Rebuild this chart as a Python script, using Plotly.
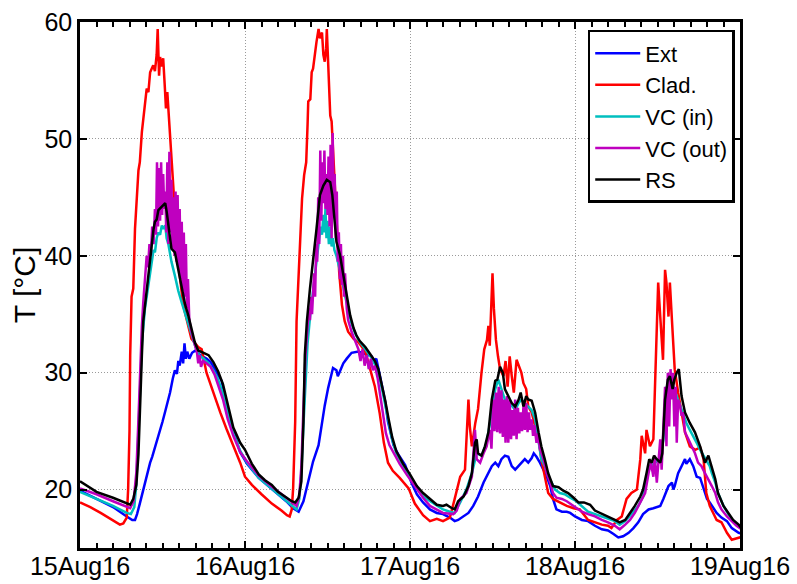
import pandas as pd
import plotly.graph_objects as go

# (hours since 15Aug16 00:00, temperature °C)
EXT = [(0,19.9),(2.4,19.2),(4.8,18.5),(6.8,17.7),(7.6,17.4),(8.0,17.4),(8.3,17.9),(8.7,18.8),(9.2,20.0),(9.7,21.2),(10.2,22.3),(10.5,22.8),(10.9,23.6),(11.2,24.0),(11.6,25.0),(12.0,25.8),(12.4,26.7),(12.8,27.6),(13.1,28.3),(13.5,29.5),(13.8,30.2),(14.1,29.9),(14.3,31.0),(14.5,30.6),(14.8,31.8),(15.0,30.8),(15.2,32.5),(15.4,31.2),(15.6,31.8),(15.9,31.2),(16.3,31.7),(16.8,31.9),(17.3,31.6),(17.8,31.4),(18.4,31.2),(19.0,30.9),(19.4,30.5),(20.0,30.0),(20.6,29.3),(21.0,28.2),(21.5,26.8),(22.3,25.0),(23.3,23.2),(24.3,22.2),
       (26.0,21.0),(28.0,20.0),(30.0,19.0),(31.0,18.4),(31.8,18.1),(32.5,19.0),(33.2,20.7),(33.9,22.4),(34.7,23.8),(35.2,25.8),(35.6,27.2),(36.1,28.7),(36.6,29.8),(36.8,30.4),(37.3,30.2),(37.5,29.7),(37.8,30.1),(38.3,30.8),(38.8,31.2),(39.5,31.7),(40.5,31.8),(41.5,31.6),(42.4,31.4),(42.8,31.0),(43.1,31.2),(43.6,29.8),(44.4,27.5),(44.8,25.8),(45.6,23.8),(46.3,23.0),(47.3,22.1),(48.2,20.6),
       (49.0,19.6),(49.9,18.9),(50.9,18.3),(51.9,18.0),(52.8,17.9),(53.8,17.6),(54.5,17.3),(55.0,17.4),(55.8,17.7),(56.5,18.0),(57.2,18.6),(57.9,19.4),(58.7,20.6),(59.4,21.4),(59.9,22.0),(60.4,22.3),(60.85,22.0),(61.3,22.6),(61.8,22.9),(62.3,22.8),(62.8,22.0),(63.3,21.7),(63.8,22.0),(64.2,22.3),(64.7,22.6),(65.2,22.3),(65.7,22.7),(66.0,23.1),(66.4,22.8),(66.9,22.3),(67.4,21.7),(67.9,21.1),(68.4,20.3),(68.8,19.2),(69.3,18.3),(70.1,18.1),(70.8,18.1),(71.3,18.0),(72.0,17.7),
       (73.0,17.4),(73.9,17.3),(74.9,16.9),(75.9,16.6),(76.8,16.5),(77.6,16.2),(78.3,15.9),(79.0,16.0),(79.8,16.3),(80.5,16.7),(81.2,17.2),(81.9,17.9),(82.7,18.3),(83.4,18.4),(84.4,18.6),(84.85,19.2),(85.6,20.3),(86.1,20.6),(86.3,20.0),(86.5,20.3),(87.0,21.4),(87.5,22.0),(88.0,22.6),(88.2,22.2),(88.7,22.6),(89.2,22.0),(89.7,21.1),(90.2,21.0),(90.7,20.0),(91.2,19.2),(91.6,18.9),(92.1,18.4),(92.6,18.0),(93.3,17.6),(94.1,17.3),(94.8,16.7),(95.8,16.3),(96.5,16.2)]

CLAD = [(0,18.9),(1.5,18.5),(3.0,18.0),(4.5,17.5),(5.8,17.0),(6.3,17.1),(6.8,17.6),(7.0,20.0),(7.2,25.0),(7.3,31.5),(7.5,36.5),(7.75,37.2),(8.0,42.3),(8.5,47.3),(8.7,48.0),(9.0,50.6),(9.45,53.2),(9.7,54.3),(9.95,54.0),(10.2,55.7),(10.65,56.3),(10.9,55.8),(11.15,57.2),(11.3,59.4),(11.5,55.4),(11.65,57.0),(11.9,56.2),(12.1,56.9),(12.35,54.3),(12.5,52.6),(12.7,54.0),(12.95,51.5),(13.3,48.6),(13.6,45.8),(14.05,41.5),(14.55,38.1),(15.0,35.8),(15.5,34.6),(16.2,32.9),(17.2,32.2),(17.7,32.0),(18.4,30.0),(19.2,28.6),(20.4,26.6),(21.3,25.2),(22.3,23.8),(23.3,22.3),(24.0,21.1),
        (25.0,20.4),(26.4,19.6),(27.9,18.8),(29.3,18.2),(30.1,17.8),(30.5,17.7),(30.8,18.3),(31.0,20.1),(31.3,25.8),(31.5,34.4),(31.8,38.1),(32.0,41.5),(32.3,44.9),(32.6,46.9),(32.9,48.0),(33.1,51.2),(33.2,53.2),(33.5,53.4),(33.7,55.7),(33.9,56.0),(34.2,57.7),(34.4,58.3),(34.7,59.4),(34.9,58.6),(35.2,59.1),(35.4,57.2),(35.6,56.6),(35.8,57.7),(35.9,59.4),(36.1,55.7),(36.4,52.0),(36.6,51.5),(37.0,46.3),(37.3,42.9),(37.7,38.6),(38.1,35.8),(38.5,34.4),(39.0,33.5),(39.8,32.9),(40.5,32.6),(41.5,31.8),(42.2,30.3),(42.9,28.8),(43.6,26.5),(44.2,24.0),(44.8,22.3),(45.5,21.6),(46.5,21.0),(47.8,20.1),(48.7,18.8),
        (49.9,17.8),(50.9,17.3),(51.9,17.5),(52.8,17.3),(53.8,17.6),(54.5,19.2),(55.3,21.1),(56.0,21.7),(56.2,24.3),(56.5,27.7),(56.7,25.4),(57.0,23.7),(57.5,25.7),(57.9,26.9),(58.4,30.0),(58.8,32.0),(59.2,32.8),(59.4,34.0),(59.6,32.3),(59.9,36.2),(60.0,38.5),(60.2,35.5),(60.5,32.8),(60.8,31.4),(61.1,30.3),(61.6,29.7),(61.9,31.0),(62.2,28.8),(62.5,31.4),(62.8,29.7),(63.1,28.3),(63.5,31.1),(63.9,30.5),(64.2,30.0),(64.5,29.1),(64.9,28.6),(65.2,27.1),(65.7,26.6),(66.2,25.4),(66.7,24.3),(67.1,22.6),(67.6,21.1),(68.1,19.7),(68.8,19.2),(69.8,18.9),(70.8,18.6),(71.8,18.4),(72.7,18.3),
        (73.9,17.4),(74.9,17.2),(75.9,17.0),(76.8,16.9),(77.3,16.7),(78.1,17.4),(78.8,17.7),(79.5,19.2),(80.2,19.7),(81.0,20.0),(81.5,22.6),(81.7,24.6),(82.2,23.1),(82.4,25.1),(82.9,23.7),(83.4,24.3),(83.6,27.7),(83.9,33.4),(84.1,37.7),(84.4,34.8),(84.6,32.8),(84.8,31.1),(85.1,38.8),(85.3,37.7),(85.6,34.8),(85.8,37.7),(86.1,34.5),(86.3,32.0),(86.5,30.3),(87.0,28.3),(87.5,26.6),(88.0,24.9),(88.7,23.7),(89.5,23.4),(90.2,23.6),(90.7,22.6),(91.1,19.7),(91.6,18.6),(92.1,18.0),(92.6,17.4),(93.3,17.2),(94.1,16.3),(94.8,15.7),(95.8,15.9),(96.5,16.0)]

VC_IN = [(0,19.8),(2.4,19.2),(4.8,18.6),(6.8,18.0),(7.4,17.9),(7.9,18.5),(8.2,20.5),(8.5,25.0),(8.75,29.5),(9.0,32.5),(9.45,35.5),(9.95,37.5),(10.4,39.0),(10.7,40.5),(10.9,40.3),(11.15,41.5),(11.4,42.0),(11.65,41.8),(11.9,42.6),(12.1,42.3),(12.4,42.6),(12.6,41.5),(12.85,41.0),(13.1,40.0),(13.3,39.5),(13.8,38.3),(14.3,37.0),(14.8,36.0),(15.3,35.0),(15.8,34.0),(16.3,33.0),(16.8,32.2),(17.3,31.5),(18.0,31.2),(18.7,30.8),(19.4,30.2),(20.1,29.4),(20.8,28.2),(21.6,26.3),(22.3,24.8),(23.3,23.3),(24.3,22.3),
         (26.0,21.0),(28.0,20.0),(30.0,19.0),(31.0,18.5),(31.5,18.3),(31.9,19.2),(32.2,21.5),(32.5,25.5),(32.8,29.5),(33.1,32.5),(33.5,35.0),(33.9,37.0),(34.3,39.0),(34.7,41.0),(35.0,42.5),(35.2,41.8),(35.4,43.5),(35.55,42.0),(35.7,44.0),(35.85,41.5),(36.0,43.0),(36.2,41.0),(36.4,42.5),(36.6,40.8),(36.8,41.5),(37.0,40.5),(37.3,40.0),(37.7,39.0),(38.1,38.0),(38.5,36.7),(39.0,35.3),(39.5,34.2),(40.0,33.4),(40.5,32.8),(41.0,32.4),(41.5,32.0),(42.0,31.5),(42.5,31.2),(42.9,30.7),(43.4,30.0),(43.9,28.7),(44.4,27.3),(44.9,25.7),(45.4,24.3),(46.0,23.1),(47.0,22.0),(48.0,21.0),
         (49.9,19.4),(51.9,18.6),(52.8,18.3),(53.8,18.1),(54.5,18.0),(55.3,18.9),(56.2,20.0),(57.0,21.4),(57.7,23.1),(58.4,22.9),(59.15,24.0),(59.9,26.6),(60.4,28.6),(60.85,29.4),(61.3,28.6),(61.8,27.7),(62.3,27.4),(62.8,27.2),(63.3,26.8),(63.8,27.4),(64.2,27.7),(64.7,27.4),(65.2,27.1),(65.7,26.8),(66.2,26.0),(66.7,24.3),(67.1,22.6),(67.6,22.0),(68.1,21.1),(68.6,20.6),(69.1,20.0),(69.8,19.7),(70.5,19.6),(71.3,19.3),(72.2,19.0),
         (73.9,18.1),(75.9,17.7),(77.8,17.3),(78.5,17.0),(79.3,17.3),(80.2,17.9),(81.2,18.6),(81.9,19.4),(82.4,21.1),(82.9,22.0),(83.6,22.3),(84.4,22.6),(84.85,24.3),(85.2,28.3),(85.6,29.4),(86.0,28.3),(86.3,28.8),(86.8,28.0),(87.3,27.1),(87.8,26.3),(88.2,25.7),(88.7,25.1),(89.2,24.6),(89.7,24.0),(90.2,23.4),(90.7,22.9),(91.2,22.3),(91.6,22.0),(91.9,21.4),(92.4,20.6),(92.8,19.7),(93.6,18.6),(94.3,17.9),(95.0,17.3),(95.8,16.9),(96.5,16.6)]

VC_OUT = [(0,20.1),(2.4,19.6),(4.8,19.0),(6.8,18.5),(7.3,18.4),(7.8,19.0),(8.2,21.5),(8.5,26.0),(8.75,31.0),(9.0,34.0),(9.2,36.0),(9.45,38.5),(9.7,40.0),(9.9,39.0),(10.1,41.0),(10.3,40.0),(10.5,42.5),(10.7,41.0),(10.9,44.0),(11.05,41.8),(11.2,48.0),(11.35,42.5),(11.5,47.5),(11.65,43.0),(11.8,48.0),(11.95,43.5),(12.1,47.0),(12.25,44.0),(12.4,45.5),(12.55,42.0),(12.7,48.0),(12.85,41.0),(13.0,48.9),(13.15,42.0),(13.3,46.5),(13.45,40.5),(13.6,45.0),(13.75,40.0),(13.9,45.5),(14.05,39.5),(14.2,45.2),(14.35,39.0),(14.5,44.0),(14.65,38.0),(14.8,42.9),(14.95,37.0),(15.1,42.0),(15.25,36.5),(15.4,41.0),(15.55,35.5),(15.7,38.0),(15.9,34.5),(16.2,33.5),(16.7,32.4),(17.0,31.8),(17.2,30.8),(17.4,31.5),(17.6,30.5),(17.9,31.0),(18.4,30.8),(19.0,30.5),(19.6,29.8),(20.2,28.8),(20.8,27.7),(21.5,26.0),(22.3,24.6),(23.3,23.2),(24.3,22.4),
          (26.0,21.2),(28.0,20.2),(30.0,19.3),(31.0,18.8),(31.5,18.6),(31.9,19.5),(32.2,22.0),(32.5,27.0),(32.8,31.5),(33.1,34.0),(33.3,35.5),(33.45,34.5),(33.6,36.5),(33.75,35.0),(33.9,37.0),(34.05,38.5),(34.2,36.5),(34.35,41.0),(34.5,39.5),(34.65,45.0),(34.8,41.0),(34.95,49.0),(35.1,43.0),(35.25,48.0),(35.4,44.5),(35.55,49.0),(35.7,44.0),(35.85,47.0),(36.0,43.5),(36.15,48.5),(36.3,42.5),(36.45,49.5),(36.6,41.5),(36.75,50.5),(36.9,44.0),(37.05,47.0),(37.2,41.5),(37.35,45.5),(37.5,39.5),(37.65,42.0),(37.8,38.0),(37.95,41.0),(38.1,37.5),(38.25,40.0),(38.4,36.5),(38.55,38.5),(38.8,35.5),(39.0,34.5),(39.5,33.5),(40.0,32.8),(40.5,32.0),(40.8,31.0),(41.1,32.0),(41.4,30.6),(41.7,31.5),(42.0,30.3),(42.3,31.2),(42.6,30.2),(42.9,30.6),(43.3,29.5),(43.7,28.0),(44.1,26.3),(44.5,24.8),(45.0,23.8),(45.7,23.0),(46.5,22.2),(47.5,21.3),(48.3,20.6),
          (49.9,19.3),(50.9,18.6),(52.8,18.0),(54.3,17.9),(54.8,18.2),(55.3,19.2),(56.2,19.7),(57.0,21.1),(57.3,23.5),(57.45,25.1),(57.7,22.6),(58.2,22.3),(58.7,23.1),(59.15,23.7),(59.6,25.1),(59.85,23.5),(60.1,27.7),(60.3,25.0),(60.5,28.3),(60.7,24.9),(60.9,28.8),(61.1,24.8),(61.3,28.5),(61.5,24.5),(61.7,27.7),(61.9,24.0),(62.1,28.0),(62.3,24.0),(62.5,27.7),(62.7,24.3),(62.9,26.8),(63.1,24.6),(63.3,27.7),(63.5,24.3),(63.7,27.0),(63.9,24.8),(64.1,26.6),(64.3,25.0),(64.5,27.1),(64.7,25.1),(64.9,27.4),(65.1,24.9),(65.3,26.6),(65.5,25.1),(65.7,26.0),(65.9,24.6),(66.1,25.5),(66.4,24.0),(66.6,24.8),(66.9,23.5),(67.4,22.6),(67.9,21.4),(68.4,20.6),(68.8,19.7),(69.3,19.3),(70.1,19.2),(70.8,19.0),(71.8,18.6),(72.5,18.3),
          (73.0,18.1),(73.9,17.9),(74.9,17.7),(75.9,17.4),(76.8,17.2),(77.8,16.9),(78.5,16.6),(79.3,17.0),(80.0,17.4),(80.7,18.0),(81.5,18.9),(82.2,19.7),(82.7,21.4),(83.05,22.3),(83.4,21.1),(83.6,22.9),(83.9,20.6),(84.1,22.0),(84.4,24.3),(84.6,21.7),(84.85,25.1),(85.1,28.8),(85.3,23.7),(85.5,30.0),(85.7,25.4),(85.9,30.3),(86.1,27.7),(86.25,30.0),(86.45,25.4),(86.65,28.8),(86.8,24.0),(87.0,27.7),(87.3,27.1),(87.5,26.3),(87.75,26.6),(88.0,24.9),(88.5,24.3),(89.0,23.7),(89.45,23.1),(89.9,22.3),(90.4,22.0),(90.9,21.4),(91.4,20.9),(91.9,20.3),(92.4,19.7),(92.8,18.9),(93.3,18.3),(94.1,17.7),(94.8,17.3),(95.5,16.9),(96.2,16.6)]

RS = [(0,20.7),(2.4,19.8),(4.8,19.3),(6.8,18.8),(7.3,18.7),(7.75,19.2),(8.2,20.4),(8.5,23.0),(8.7,27.2),(9.0,31.5),(9.2,34.4),(9.7,37.2),(10.2,39.5),(10.7,42.3),(10.9,42.9),(11.15,43.1),(11.4,43.9),(11.9,44.2),(12.4,44.5),(12.6,43.8),(12.85,42.6),(13.3,40.6),(13.8,40.3),(14.3,38.9),(14.8,37.2),(15.3,35.8),(15.75,34.9),(16.2,33.8),(16.7,32.6),(17.2,31.9),(17.9,31.7),(18.7,31.5),(19.4,30.9),(20.1,30.1),(20.8,29.0),(21.6,27.0),(22.3,25.3),(23.3,24.0),(24.0,23.4),
      (25.0,22.2),(26.0,21.3),(26.9,20.8),(27.9,20.4),(28.8,19.8),(29.8,19.4),(30.8,19.0),(31.3,18.9),(31.8,19.3),(32.2,20.7),(32.5,25.8),(32.7,31.5),(33.0,34.4),(33.45,37.2),(33.9,39.5),(34.4,42.3),(34.9,45.2),(35.4,46.0),(35.9,46.5),(36.4,46.3),(36.7,45.2),(37.0,42.9),(37.3,41.2),(37.8,40.1),(38.3,38.3),(38.8,36.6),(39.3,34.9),(39.8,33.8),(40.2,33.2),(40.7,32.7),(41.5,32.2),(42.2,31.6),(42.9,31.0),(43.4,30.3),(43.9,29.0),(44.4,27.6),(44.9,26.0),(45.4,24.5),(46.0,23.3),(47.0,22.2),(48.0,21.3),
      (49.0,20.3),(49.9,19.7),(50.9,19.2),(51.9,18.7),(52.8,18.6),(53.3,18.7),(54.1,18.4),(54.5,18.3),(55.0,19.0),(55.8,19.4),(56.5,20.3),(57.0,21.4),(57.45,24.0),(57.7,24.3),(57.9,23.1),(58.4,22.9),(58.9,23.7),(59.4,24.9),(59.9,27.7),(60.4,29.3),(60.7,29.4),(61.1,30.5),(61.5,30.0),(61.8,28.6),(62.3,28.0),(62.8,27.4),(63.3,27.1),(63.8,27.7),(64.1,28.3),(64.5,27.1),(64.9,28.0),(65.2,27.7),(65.7,27.6),(66.2,26.6),(66.7,24.9),(67.1,23.7),(67.6,22.6),(68.1,21.4),(68.8,20.3),(69.6,20.2),(70.3,19.9),(71.0,19.7),(71.8,19.3),(72.5,18.9),
      (73.3,18.9),(74.2,18.7),(74.9,18.2),(75.9,17.9),(76.8,17.7),(77.8,17.4),(78.5,17.2),(79.3,17.4),(80.0,18.0),(80.7,18.6),(81.5,19.4),(81.9,20.0),(82.4,21.4),(82.8,22.6),(83.15,22.3),(83.5,22.9),(83.9,22.6),(84.4,22.3),(84.7,23.1),(85.1,27.7),(85.5,29.4),(85.8,29.7),(86.2,28.6),(86.45,29.4),(86.8,30.0),(87.1,30.3),(87.5,28.0),(88.0,26.6),(88.7,25.7),(89.45,24.9),(90.2,23.7),(90.9,22.3),(91.4,22.9),(91.9,22.0),(92.4,20.9),(92.8,19.7),(93.6,18.6),(94.3,18.0),(95.0,17.4),(95.8,17.0),(96.2,16.7)]

SERIES_NAMES = ["Ext", "Clad.", "VC (in)", "VC (out)", "RS"]
SERIES_DATA = [EXT, CLAD, VC_IN, VC_OUT, RS]
SERIES_COLORS = ["#0000FF", "#FF0000", "#00BFBF", "#BF00BF", "#000000"]
START = pd.Timestamp("2016-08-15 00:00")
END = pd.Timestamp("2016-08-19 00:00")

fig = go.Figure()
for name, data, color in zip(SERIES_NAMES, SERIES_DATA, SERIES_COLORS):
    hrs = [p[0] for p in data]
    vals = [p[1] for p in data]
    times = [START + pd.Timedelta(hours=h) for h in hrs]
    fig.add_trace(go.Scatter(x=times, y=vals, mode="lines", name=name,
                             line=dict(color=color, width=2.5)))

axis_common = dict(showline=True, linecolor="black", linewidth=2.5, mirror="allticks",
                   ticks="inside", tickcolor="black", tickwidth=2, ticklen=7,
                   showgrid=True, gridcolor="#9a9a9a", griddash="1px,2px", gridwidth=1,
                   zeroline=False, automargin=False)

fig.update_layout(
    width=797, height=584,
    margin=dict(l=80, r=57, t=22, b=36),
    paper_bgcolor="white", plot_bgcolor="white",
    font=dict(family="Liberation Sans, Arial", size=25, color="black"),
    xaxis=dict(type="date", range=[START, END], tick0=START, dtick=86400000,
               tickformat="%d%b%y", ticklabelstandoff=-6,
               minor=dict(dtick=8640000, ticks="inside", ticklen=5, tickwidth=2,
                          tickcolor="black", showgrid=False),
               **axis_common),
    yaxis=dict(range=[15, 60], tick0=0, dtick=10,
               title=dict(text="T [°C]", standoff=0),
               **axis_common),
    legend=dict(x=0.992, xanchor="right", y=0.985, yanchor="top",
                bgcolor="white", bordercolor="black", borderwidth=2.5,
                font=dict(size=22), itemwidth=45, tracegroupgap=0),
    showlegend=True,
)

fig.write_html("out.html", config={"displayModeBar": False},
               post_script="document.body.style.margin='0px';document.body.style.overflow='hidden';")
